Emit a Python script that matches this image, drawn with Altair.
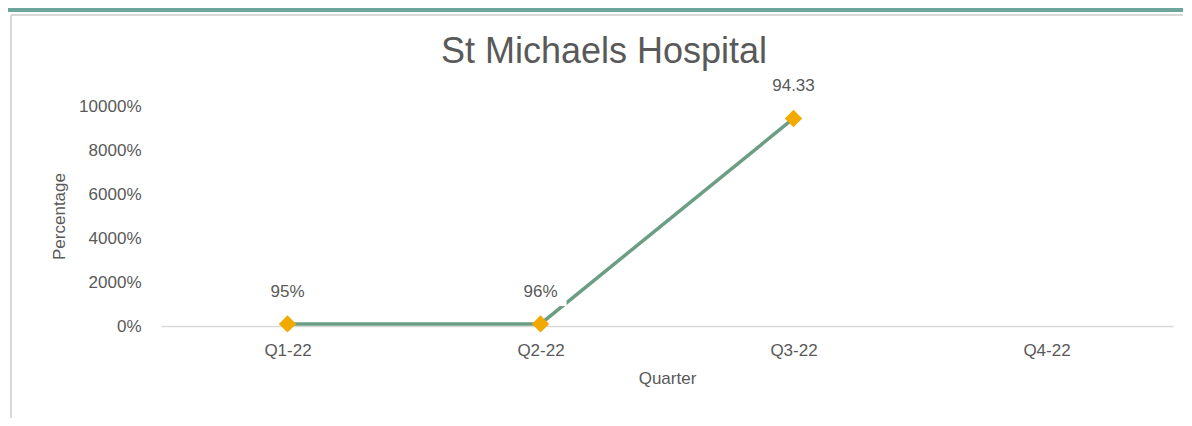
import altair as alt
import pandas as pd

quarters = ["Q1-22", "Q2-22", "Q3-22", "Q4-22"]
values = [0.95, 0.96, 94.33, None]
labels = ["95%", "96%", "94.33", ""]

df = pd.DataFrame({"Quarter": quarters, "Percentage": values, "label": labels})

FONT = "Liberation Sans"
TXT = "#595959"
LINE = "#6b9e85"
MARK = "#f2a900"

x = alt.X("Quarter:N", sort=quarters,
          scale=alt.Scale(type="point", domain=quarters, padding=0.5),
          axis=alt.Axis(title="Quarter", labelAngle=0, ticks=False, grid=False,
                        domainColor="#d9d9d9", domainWidth=1.5,
                        labelFont=FONT, labelFontSize=17, labelColor=TXT, labelPadding=16,
                        titleFont=FONT, titleFontSize=17, titleColor=TXT,
                        titleFontWeight="normal", titlePadding=12))
y = alt.Y("Percentage:Q",
          scale=alt.Scale(domain=[0, 100], nice=False),
          axis=alt.Axis(title="Percentage", format=".0%", values=[0, 20, 40, 60, 80, 100],
                        ticks=False, grid=False, domain=False,
                        labelFont=FONT, labelFontSize=17, labelColor=TXT, labelPadding=20,
                        titleFont=FONT, titleFontSize=17, titleColor=TXT,
                        titleFontWeight="normal", titlePadding=10))

base = alt.Chart(df)

line = base.mark_line(color=LINE, strokeWidth=3.5).encode(x=x, y=y)
boxes = base.transform_filter("datum.Percentage != null").mark_point(
    shape="M-1,-0.54L1,-0.54L1,0.54L-1,0.54Z", filled=True, fill="white",
    opacity=1, size=2704, yOffset=-32, strokeWidth=0).encode(x=x, y=y)
pts = base.transform_filter("datum.Percentage != null").mark_point(
    shape="diamond", filled=True, color=MARK, opacity=1, size=300).encode(x=x, y=y)
txt = base.mark_text(dy=-32, font=FONT, fontSize=17, color=TXT).encode(x=x, y=y, text="label:N")

# decorative frame
band = base.mark_rule(color="#6fa69c", strokeWidth=4, clip=False).encode(
    x=alt.value(-161), x2=alt.value(1030), y=alt.value(-96))
frame_top = base.mark_rule(color="#d9d9d9", strokeWidth=2, clip=False).encode(
    x=alt.value(-150), x2=alt.value(1030), y=alt.value(-91))
frame_left = base.mark_rule(color="#d9d9d9", strokeWidth=2, clip=False).encode(
    x=alt.value(-150), y=alt.value(-91), y2=alt.value(315))

chart = alt.layer(band, frame_top, frame_left, line, boxes, pts, txt).properties(
    width=1012, height=220,
    background="white",
    title=alt.TitleParams("St Michaels Hospital", font=FONT, fontSize=36, color=TXT,
                          fontWeight="normal", anchor="middle", dx=-63, offset=0, dy=63),
    autosize=alt.AutoSizeParams(type="none"),
    padding={"left": 153, "top": 98, "right": 10, "bottom": 92},
).configure_view(stroke="transparent", strokeWidth=0)

chart.save("out.html", embed_options={"renderer": "svg", "actions": False})
